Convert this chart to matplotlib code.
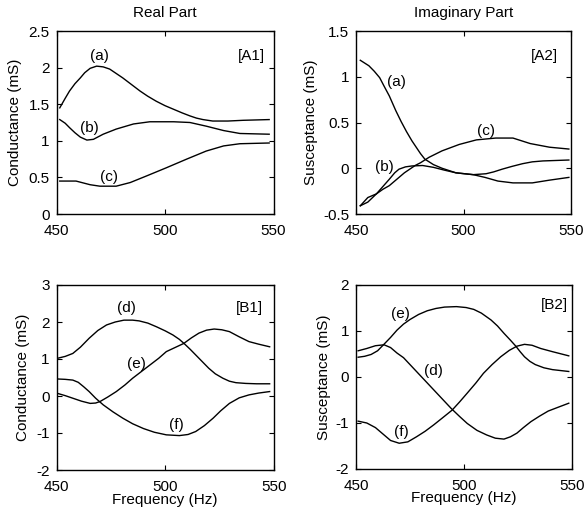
import matplotlib
matplotlib.use("Agg")
import matplotlib.pyplot as plt
from matplotlib.ticker import FuncFormatter

plt.rcParams['font.family'] = ['Liberation Sans', 'DejaVu Sans']
plt.rcParams['font.size'] = 11
plt.rcParams['axes.unicode_minus'] = False

# ---- [A1] real part, conductance (mS) ----
f_A1_a = [451.5, 454, 456, 458.5, 461, 463, 465.5, 468.5, 471.5, 474.5, 477.5, 480.5, 484.5,
          488.5, 492, 496, 500, 504, 508, 511.5, 514.5, 517.5, 522, 529, 536, 548]
g_A1_a = [1.45, 1.58, 1.68, 1.78, 1.86, 1.93, 1.99, 2.02, 2.01, 1.98, 1.92, 1.86, 1.77,
          1.68, 1.61, 1.54, 1.48, 1.43, 1.38, 1.34, 1.31, 1.29, 1.27, 1.27, 1.28, 1.29]
f_A1_b = [451.5, 454, 456, 458.5, 461, 464, 467, 471.5, 477.5, 485.5, 493, 504, 511.5, 519,
          527, 534.5, 548]
g_A1_b = [1.29, 1.24, 1.18, 1.11, 1.05, 1.01, 1.02, 1.09, 1.16, 1.23, 1.26, 1.26, 1.25, 1.20,
          1.14, 1.10, 1.09]
f_A1_c = [451.5, 459, 465.5, 470, 477.5, 484, 491.5, 500.5, 510, 519, 527, 534.5, 548]
g_A1_c = [0.45, 0.45, 0.40, 0.38, 0.38, 0.43, 0.52, 0.63, 0.75, 0.86, 0.93, 0.96, 0.97]

# ---- [A2] imaginary part, susceptance (mS) ----
f_A2_a = [452, 454, 456, 458.5, 461, 463, 465.5, 468.5, 471, 473.5, 476, 478, 480, 482, 486,
          490, 496.5, 504.5, 510, 516, 523, 532, 540, 549]
b_A2_a = [1.18, 1.15, 1.12, 1.06, 0.99, 0.90, 0.79, 0.63, 0.51, 0.40, 0.30, 0.23, 0.16, 0.10,
          0.04, 0.0, -0.05, -0.07, -0.10, -0.14, -0.16, -0.16, -0.13, -0.10]
f_A2_b = [452, 455.5, 459.5, 462.5, 465.5, 468, 470, 473, 476, 481, 486, 491, 496.5, 504.5,
          510.5, 514, 518, 522.5, 527.5, 532, 537, 549]
b_A2_b = [-0.41, -0.32, -0.28, -0.20, -0.12, -0.05, -0.01, 0.015, 0.025, 0.03, 0.01, -0.02,
          -0.05, -0.07, -0.06, -0.04, -0.01, 0.02, 0.05, 0.07, 0.08, 0.09]
f_A2_c = [452, 455.5, 459.5, 462.5, 465.5, 468, 470, 472.5, 475, 477.5, 480, 484, 490, 498,
          506, 515, 523, 527, 531, 540, 549]
b_A2_c = [-0.41, -0.37, -0.28, -0.23, -0.19, -0.14, -0.10, -0.05, -0.01, 0.03, 0.06, 0.12,
          0.19, 0.26, 0.31, 0.33, 0.33, 0.30, 0.27, 0.23, 0.21]

# ---- [B1] real part, conductance (mS) ----
f_B1_d = [450.5, 454, 457.5, 461, 465, 469, 473, 477, 481, 485, 488, 492, 496, 500, 503.5,
          506.5, 509, 511.5, 514, 517, 520, 523, 526.5, 529.5, 532.5, 537, 542, 548]
g_B1_d = [1.02, 1.07, 1.15, 1.32, 1.56, 1.77, 1.92, 2.00, 2.05, 2.05, 2.03, 1.97, 1.87, 1.76,
          1.65, 1.53, 1.40, 1.26, 1.11, 0.93, 0.75, 0.60, 0.48, 0.40, 0.36, 0.34, 0.33, 0.33]
f_B1_e = [450.5, 454, 457.5, 461.5, 465.5, 468, 470, 473.5, 477.5, 481.5, 485, 489, 493, 497,
          500.5, 504.5, 508.5, 512, 515.5, 519, 522.5, 526, 529.5, 534, 538.5, 543, 548]
g_B1_e = [0.07, 0.01, -0.06, -0.14, -0.20, -0.19, -0.15, -0.03, 0.12, 0.30, 0.48, 0.66, 0.84,
          1.02, 1.20, 1.31, 1.42, 1.57, 1.70, 1.78, 1.81, 1.79, 1.74, 1.60, 1.47, 1.40, 1.33]
f_B1_f = [450.5, 454, 457.5, 460, 462.5, 465, 468, 471.5, 476, 480.5, 485, 490, 495, 500.5,
          506.5, 510.5, 514, 518, 522, 525.5, 529.5, 534, 538.5, 543, 548]
g_B1_f = [0.46, 0.45, 0.43, 0.37, 0.25, 0.12, -0.06, -0.24, -0.43, -0.60, -0.75, -0.88, -0.98,
          -1.05, -1.07, -1.04, -0.96, -0.80, -0.60, -0.40, -0.20, -0.05, 0.03, 0.08, 0.12]

# ---- [B2] imaginary part, susceptance (mS) ----
f_B2_d = [451, 455, 459, 463, 466, 469, 472, 475, 478, 482, 486, 490, 494, 498, 501.5, 506,
          510.5, 514.5, 518.5, 521.5, 524.5, 527.5, 531, 535, 539, 544, 548.5]
b_B2_d = [0.57, 0.62, 0.68, 0.70, 0.64, 0.52, 0.42, 0.27, 0.12, -0.08, -0.28, -0.48, -0.68,
          -0.86, -1.01, -1.16, -1.26, -1.33, -1.35, -1.30, -1.22, -1.10, -0.97, -0.85, -0.74,
          -0.65, -0.57]
f_B2_e = [451, 454, 457, 460, 462.5, 466, 469, 472, 475, 479, 483, 487, 491, 496.5, 501,
          504.5, 508, 512.5, 515.5, 518.5, 521.5, 524, 526, 528, 530.5, 533, 537, 541, 548.5]
b_B2_e = [0.43, 0.45, 0.49, 0.57, 0.69, 0.86, 1.02, 1.15, 1.25, 1.36, 1.44, 1.49, 1.52, 1.53,
          1.51, 1.47, 1.39, 1.24, 1.11, 0.95, 0.80, 0.67, 0.55, 0.44, 0.34, 0.27, 0.20, 0.16,
          0.12]
f_B2_f = [451, 455, 459, 462.5, 466, 470, 474, 478, 482, 486, 490, 494.5, 498, 501.5, 505.5,
          509, 513, 517, 521, 524.5, 528, 531.5, 535.5, 541, 548.5]
b_B2_f = [-0.96, -1.00, -1.10, -1.24, -1.38, -1.44, -1.41, -1.30, -1.18, -1.04, -0.89, -0.72,
          -0.54, -0.35, -0.13, 0.08, 0.27, 0.44, 0.58, 0.67, 0.71, 0.69, 0.62, 0.55, 0.46]

x_ticks = [450, 500, 550]
y_ticks_A1 = [0, 0.5, 1, 1.5, 2, 2.5]
y_ticks_A2 = [-0.5, 0, 0.5, 1, 1.5]
y_ticks_B1 = [-2, -1, 0, 1, 2, 3]
y_ticks_B2 = [-2, -1, 0, 1, 2]

fig = plt.figure(figsize=(5.86, 5.22), dpi=100)

W, H = 586.0, 522.0
def box(l, r, t, b):
    return [l / W, (H - b) / H, (r - l) / W, (b - t) / H]

ax_A1 = fig.add_axes(box(56.5, 273.5, 31, 214))
ax_A2 = fig.add_axes(box(356, 571, 31, 214))
ax_B1 = fig.add_axes(box(56.5, 274, 285, 470))
ax_B2 = fig.add_axes(box(356, 572, 285, 469))

fmt = FuncFormatter(lambda v, p: '%g' % v)
FS = 11

def style(ax, yticks, ylabel, ylabel_x):
    ax.set_xlim(450, 550)
    ax.set_ylim(yticks[0], yticks[-1])
    ax.set_xticks(x_ticks)
    ax.set_yticks(yticks)
    ax.xaxis.set_major_formatter(fmt)
    ax.yaxis.set_major_formatter(fmt)
    ax.tick_params(direction='in', length=3.5, width=0.8, top=True, right=True,
                   labelsize=FS, colors='black')
    ax.tick_params(axis='x', pad=7)
    ax.tick_params(axis='y', pad=5)
    for s in ax.spines.values():
        s.set_linewidth(1.0)
    ax.set_ylabel(ylabel, fontsize=FS, va='center')
    ax.yaxis.set_label_coords(ylabel_x, 0.5)

line_kw = dict(color='black', lw=1.0)
lab_kw = dict(fontsize=FS, ha='center', va='center')

# [A1]
ax_A1.plot(f_A1_a, g_A1_a, **line_kw)
ax_A1.plot(f_A1_b, g_A1_b, **line_kw)
ax_A1.plot(f_A1_c, g_A1_c, **line_kw)
ax_A1.text(470, 2.16, '(a)', **lab_kw)
ax_A1.text(465, 1.17, '(b)', **lab_kw)
ax_A1.text(474.3, 0.50, '(c)', **lab_kw)
ax_A1.text(0.90, 0.863, '[A1]', transform=ax_A1.transAxes, **lab_kw)
style(ax_A1, y_ticks_A1, 'Conductance (mS)', -0.19)
ax_A1.set_title('Real Part', fontsize=FS, y=1.097, pad=0, va='center')

# [A2]
ax_A2.plot(f_A2_a, b_A2_a, **line_kw)
ax_A2.plot(f_A2_b, b_A2_b, **line_kw)
ax_A2.plot(f_A2_c, b_A2_c, **line_kw)
ax_A2.text(468.6, 0.94, '(a)', **lab_kw)
ax_A2.text(463.2, 0.01, '(b)', **lab_kw)
ax_A2.text(510.5, 0.41, '(c)', **lab_kw)
ax_A2.text(0.876, 0.863, '[A2]', transform=ax_A2.transAxes, **lab_kw)
style(ax_A2, y_ticks_A2, 'Susceptance (mS)', -0.208)
ax_A2.set_title('Imaginary Part', fontsize=FS, y=1.097, pad=0, va='center')

# [B1]
ax_B1.plot(f_B1_d, g_B1_d, **line_kw)
ax_B1.plot(f_B1_e, g_B1_e, **line_kw)
ax_B1.plot(f_B1_f, g_B1_f, **line_kw)
ax_B1.text(482.1, 2.37, '(d)', **lab_kw)
ax_B1.text(486.7, 0.86, '(e)', **lab_kw)
ax_B1.text(505, -0.78, '(f)', **lab_kw)
ax_B1.text(0.887, 0.874, '[B1]', transform=ax_B1.transAxes, **lab_kw)
style(ax_B1, y_ticks_B1, 'Conductance (mS)', -0.153)
ax_B1.set_xlabel('Frequency (Hz)', fontsize=FS, va='center')
ax_B1.xaxis.set_label_coords(0.5, -0.16)

# [B2]
ax_B2.plot(f_B2_d, b_B2_d, **line_kw)
ax_B2.plot(f_B2_e, b_B2_e, **line_kw)
ax_B2.plot(f_B2_f, b_B2_f, **line_kw)
ax_B2.text(470.5, 1.38, '(e)', **lab_kw)
ax_B2.text(486, 0.12, '(d)', **lab_kw)
ax_B2.text(471.2, -1.19, '(f)', **lab_kw)
ax_B2.text(0.918, 0.891, '[B2]', transform=ax_B2.transAxes, **lab_kw)
style(ax_B2, y_ticks_B2, 'Susceptance (mS)', -0.150)
ax_B2.set_xlabel('Frequency (Hz)', fontsize=FS, va='center')
ax_B2.xaxis.set_label_coords(0.5, -0.16)

fig.savefig('out.png', dpi=100, facecolor='white')
